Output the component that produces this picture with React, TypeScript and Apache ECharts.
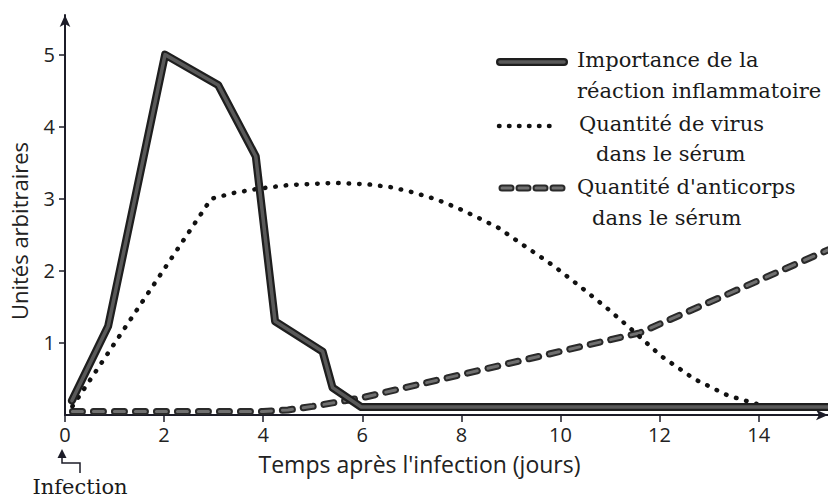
import React, { useEffect, useRef } from "react";
import * as echarts from "echarts";

// Time (days) / value pairs
const inflammationX = [0.14, 0.87, 2.02, 3.09, 3.85, 4.24, 5.2, 5.4, 5.98, 15.4];
const inflammationY = [0.2, 1.23, 5.0, 4.58, 3.59, 1.3, 0.88, 0.38, 0.11, 0.11];

const virusX = [0.15, 2.95, 3.4, 3.9, 4.5, 5.44, 6.12, 6.59, 7.02, 7.46, 7.9, 8.3, 8.74, 9.31, 9.88, 10.42, 10.96, 11.43, 12.03, 12.7, 13.38, 13.98];
const virusY = [0.12, 3.0, 3.08, 3.14, 3.19, 3.22, 3.2, 3.16, 3.09, 3.0, 2.88, 2.75, 2.6, 2.33, 2.06, 1.77, 1.47, 1.19, 0.82, 0.5, 0.27, 0.15];

const antibodyX = [0.15, 4.0, 4.5, 5.0, 6.0, 11.6, 15.4];
const antibodyY = [0.05, 0.05, 0.07, 0.12, 0.24, 1.14, 2.29];

const xTicks = [0, 2, 4, 6, 8, 10, 12, 14];
const yTicks = [1, 2, 3, 4, 5];

const seriesNames = [
  "Importance de la réaction inflammatoire",
  "Quantité de virus dans le sérum",
  "Quantité d'anticorps dans le sérum",
];

const pairs = (xs: number[], ys: number[]) => xs.map((x, i) => [x, ys[i]]);

const AXIS = "#1c1c28";
const SANS = "'Open Sans', 'Noto Sans', sans-serif";
const SERIF = "'DejaVu Serif', serif";

export default function App() {
  const ref = useRef<HTMLDivElement>(null);
  useEffect(() => {
    if (!ref.current) return;
    const chart = echarts.init(ref.current, undefined, { renderer: "svg" });
    const legendText = (x: number, y: number, t: string, font = SERIF) => ({
      type: "text",
      x,
      y,
      style: { text: t, fontFamily: font, fontSize: 21, fill: "#1a1a1a", textVerticalAlign: "middle" },
    });
    chart.setOption({
      animation: false,
      backgroundColor: "#ffffff",
      grid: { left: 63, right: 0, top: 15, bottom: 83, containLabel: false },
      xAxis: {
        type: "value",
        min: 0,
        max: 15.4,
        splitLine: { show: false },
        axisLine: { show: true, symbol: ["none", "arrow"], symbolSize: [8, 12], lineStyle: { color: AXIS, width: 2 } },
        axisTick: { show: true, length: 7, customValues: xTicks, lineStyle: { color: AXIS, width: 1.5 } },
        axisLabel: { customValues: xTicks, fontSize: 20, fontFamily: SANS, color: "#222", margin: 9 },
        name: "Temps après l'infection (jours)",
        nameLocation: "middle",
        nameGap: 37,
        nameTextStyle: { fontSize: 23, fontFamily: SANS, color: "#222", padding: [0, 54, 0, 0] },
      },
      yAxis: {
        type: "value",
        min: 0,
        max: 5.55,
        splitLine: { show: false },
        axisLine: { show: true, symbol: ["none", "arrow"], symbolSize: [8, 12], lineStyle: { color: AXIS, width: 2 } },
        axisTick: { show: true, length: 6, customValues: yTicks, lineStyle: { color: AXIS, width: 1.5 } },
        axisLabel: { customValues: yTicks, fontSize: 20, fontFamily: SANS, color: "#222", margin: 10 },
        name: "Unités arbitraires",
        nameLocation: "middle",
        nameGap: 35,
        nameTextStyle: { fontSize: 22, fontFamily: SANS, color: "#222", padding: [0, 32, 0, 0] },
      },
      series: [
        {
          name: seriesNames[2],
          type: "line",
          data: pairs(antibodyX, antibodyY),
          showSymbol: false,
          symbol: "none",
          z: 2,
          lineStyle: { color: "#2a2a2a", width: 7, type: [10, 11], cap: "round", join: "round" },
        },
        {
          name: seriesNames[2] + " ",
          type: "line",
          data: pairs(antibodyX, antibodyY),
          showSymbol: false,
          symbol: "none",
          z: 3,
          lineStyle: { color: "#707070", width: 3, type: [10, 11], cap: "round", join: "round" },
        },
        {
          name: seriesNames[1],
          type: "line",
          data: pairs(virusX, virusY),
          showSymbol: false,
          symbol: "none",
          z: 4,
          lineStyle: { color: "#111", width: 4.5, type: [0.5, 10], cap: "round", join: "round" },
        },
        {
          name: seriesNames[0],
          type: "line",
          data: pairs(inflammationX, inflammationY),
          showSymbol: false,
          symbol: "none",
          z: 5,
          lineStyle: { color: "#1e1e1e", width: 8, join: "round", cap: "round" },
        },
        {
          name: seriesNames[0] + " ",
          type: "line",
          data: pairs(inflammationX, inflammationY),
          showSymbol: false,
          symbol: "none",
          z: 6,
          lineStyle: { color: "#595959", width: 3.5, join: "round", cap: "round" },
        },
      ],
      graphic: [
        // legend: solid
        { type: "line", shape: { x1: 500, y1: 62, x2: 564, y2: 62 }, style: { stroke: "#1e1e1e", lineWidth: 8, lineCap: "round" } },
        { type: "line", shape: { x1: 500, y1: 62, x2: 564, y2: 62 }, style: { stroke: "#595959", lineWidth: 3.5, lineCap: "round" } },
        legendText(577, 60, "Importance de la"),
        legendText(577, 91, "réaction inflammatoire"),
        // legend: dotted
        { type: "line", shape: { x1: 499, y1: 126, x2: 550, y2: 126 }, style: { stroke: "#111", lineWidth: 4.5, lineCap: "round", lineDash: [0.5, 9.5] } },
        legendText(579, 124, "Quantité de virus"),
        legendText(596, 154, "dans le sérum"),
        // legend: dashed
        { type: "line", shape: { x1: 502, y1: 188, x2: 568, y2: 188 }, style: { stroke: "#2a2a2a", lineWidth: 7, lineCap: "round", lineDash: [9, 8] } },
        { type: "line", shape: { x1: 502, y1: 188, x2: 568, y2: 188 }, style: { stroke: "#707070", lineWidth: 3, lineCap: "round", lineDash: [9, 8] } },
        legendText(577, 187, "Quantité d'anticorps"),
        legendText(592, 218, "dans le sérum"),
        // infection marker
        { type: "polygon", shape: { points: [[62, 449], [57.5, 458], [66.5, 458]] }, style: { fill: AXIS } },
        { type: "polyline", shape: { points: [[62, 457], [62, 463], [80, 463], [80, 473]] }, style: { stroke: AXIS, lineWidth: 1.5, fill: "none" } },
        {
          type: "text",
          x: 80,
          y: 487,
          style: { text: "Infection", fontFamily: SERIF, fontSize: 21, fill: "#1a1a1a", textAlign: "center", textVerticalAlign: "middle" },
        },
      ],
    });
    return () => chart.dispose();
  }, []);
  return <div ref={ref} style={{ position: "absolute", left: 0, top: 0, width: 828, height: 498 }} />;
}
